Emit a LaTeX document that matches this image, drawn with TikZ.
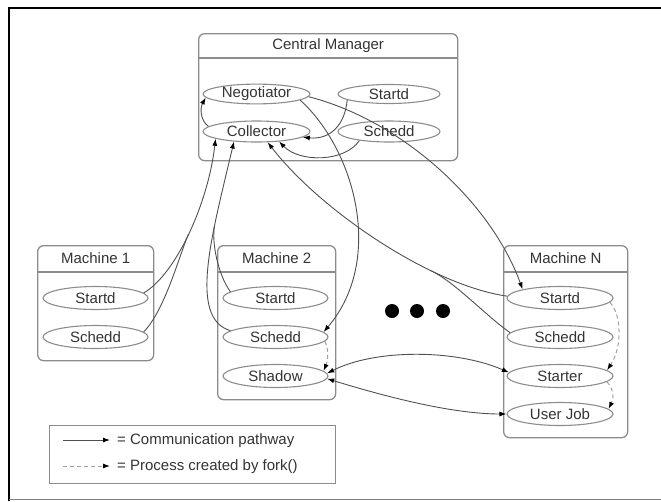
\documentclass[tikz,border=0pt]{standalone}
\usepackage{fontspec}
\setmainfont{Liberation Sans}
\usetikzlibrary{arrows.meta,shapes.geometric}
\definecolor{boxgray}{HTML}{8C8C8C}
\definecolor{linegray}{HTML}{505050}
\definecolor{txtgray}{HTML}{333333}
\definecolor{dashgray}{HTML}{A0A0A0}
\begin{document}
\begin{tikzpicture}[x=1pt,y=-1pt,
  font=\fontsize{15}{18}\selectfont,
  >={Latex[length=7pt,width=5pt,color=black]},
  boxframe/.style={draw=boxgray, line width=1.3pt, rounded corners=6pt,
    inner sep=0pt, anchor=north west},
  sepline/.style={draw=boxgray, line width=1.3pt},
  heading/.style={text=txtgray, inner sep=0pt},
  proc/.style={draw=boxgray, line width=1.1pt, ellipse, inner sep=0pt,
    minimum width=105pt, minimum height=23pt, text=txtgray},
  cmproc/.style={proc, minimum height=20pt},
  comm/.style={draw=linegray, line width=0.9pt},
  fork/.style={draw=dashgray, line width=1pt, dash pattern=on 4pt off 3pt},
  dotmark/.style={circle, fill=black, minimum size=14pt, inner sep=0pt}
]
\useasboundingbox (0,0) rectangle (661,501);

% window frame
\draw[black, line width=2pt] (9,501) -- (9,8) -- (661,8);
\draw[gray, line width=1.4pt] (9,499.3) -- (661,499.3);

% central manager
\node[boxframe, minimum width=259pt, minimum height=127pt] (cm) at (198,33) {};
\node[heading] (cmtitle) at ([yshift=-13pt]cm.north) {Central Manager};
\draw[sepline] ([yshift=-25pt]cm.north west) -- ([yshift=-25pt]cm.north east);
\node[cmproc, minimum width=107pt, minimum height=19pt] (neg) at (256.5,94) {Negotiator};
\node[cmproc, minimum width=102pt, minimum height=19pt] (cms) at (389,94) {Startd};
\node[cmproc, minimum width=107pt, minimum height=21pt] (coll) at (256.5,131.5) {Collector};
\node[cmproc, minimum width=102pt, minimum height=21pt] (cmsch) at (389,131.5) {Schedd};

% machine 1
\node[boxframe, minimum width=116pt, minimum height=115pt] (m1) at (37,245) {};
\node[heading] (m1title) at ([yshift=-13.5pt]m1.north) {Machine 1};
\draw[sepline] ([yshift=-27pt]m1.north west) -- ([yshift=-27pt]m1.north east);
\node[proc] (m1s) at (95.5,298) {Startd};
\node[proc] (m1sch) at (95.5,337) {Schedd};

% machine 2
\node[boxframe, minimum width=118pt, minimum height=154pt] (m2) at (217,245) {};
\node[heading] (m2title) at ([yshift=-13.5pt]m2.north) {Machine 2};
\draw[sepline] ([yshift=-27pt]m2.north west) -- ([yshift=-27pt]m2.north east);
\node[proc] (m2s) at (275.5,298) {Startd};
\node[proc] (m2sch) at (275.5,337) {Schedd};
\node[proc] (shadow) at (275.5,376) {Shadow};

% machine N
\node[boxframe, minimum width=124pt, minimum height=192pt] (mn) at (503,245) {};
\node[heading] (mntitle) at ([yshift=-13.5pt]mn.north) {Machine N};
\draw[sepline] ([yshift=-27pt]mn.north west) -- ([yshift=-27pt]mn.north east);
\node[proc, minimum width=106pt] (mns) at (560,298) {Startd};
\node[proc, minimum width=106pt] (mnsch) at (560,337) {Schedd};
\node[proc, minimum width=106pt] (starter) at (560,376) {Starter};
\node[proc, minimum width=106pt] (uj) at (560,414) {User Job};

% ellipsis between machines
\node[dotmark] (dot1) at (392,311) {};
\node[dotmark] (dot2) at (417,311) {};
\node[dotmark] (dot3) at (443,311) {};

% communication inside the central manager
\draw[comm,->] (coll.174) .. controls (200,120) and (200,108) .. (neg.-176);
\draw[comm,->] (cms.-172) .. controls (345,125) and (330,140) .. (coll.-7);
\draw[comm,->] (cmsch.-163) .. controls (345,162) and (300,163) .. (coll.-24);

% negotiator to the schedd and startd it matches
\draw[comm,->] (neg.-8) .. controls (355,150) and (385,260) .. (m2sch.6);
\draw[comm,->] (neg.-3) .. controls (400,120) and (490,200) .. (mns.167);

% machine 1 daemons report to the collector
\draw[comm,->] (m1s.6) .. controls (175,275) and (208,205) .. (coll.-170)
  coordinate[pos=0.5] (j1);
\draw[comm] (m1sch.6) .. controls (165,310) and (179,256) .. (j1);

% machine 2 daemons report to the collector
\draw[comm,->] (m2sch.172) .. controls (188,318) and (212,235) .. (coll.-156)
  coordinate[pos=0.68] (j2);
\draw[comm] (m2s.172) .. controls (218,275) and (211.5,242) .. (j2);

% machine N daemons report to the collector
\draw[comm,->] (mns.178) .. controls (430,285) and (320,210) .. (coll.-44)
  coordinate[pos=0.3] (j3);
\draw[comm] (mnsch.175) .. controls (485,315) and (456,283) .. (j3);

% shadow talks to starter and user job
\draw[comm,<->] (shadow.3) .. controls (375,349) and (455,349) .. (starter.176);
\draw[comm,<->] (shadow.-3) .. controls (380,395) and (450,414) .. (uj.180);

% processes created by fork()
\draw[fork,->] (m2sch.-5) .. controls (329,350) and (328,360) .. (shadow.6);
\draw[fork,->] (mns.-5) .. controls (622,315) and (622,348) .. (starter.7);
\draw[fork,->] (starter.-7) .. controls (614,390) and (614,398) .. (uj.6);

% legend
\node[draw=boxgray, line width=1.3pt, inner sep=0pt, anchor=north west,
  minimum width=286pt, minimum height=58pt] (legend) at (49,425) {};
\coordinate (la1) at (63,440);
\coordinate (lb1) at (110,440);
\draw[comm,->] (la1) -- (lb1);
\node[heading, anchor=west] (lt1) at (117,441) {= Communication pathway};
\coordinate (la2) at (63,466);
\coordinate (lb2) at (110,466);
\draw[fork,->] (la2) -- (lb2);
\node[heading, anchor=west] (lt2) at (117,467) {= Process created by fork()};
\end{tikzpicture}
\end{document}
